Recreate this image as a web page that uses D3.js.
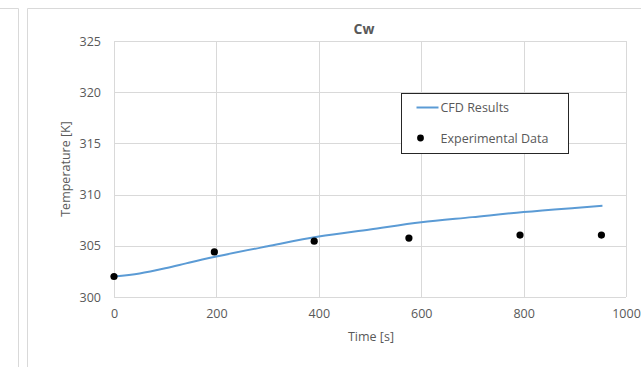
<!DOCTYPE html>
<html>
<head>
<meta charset="utf-8">
<script src="https://cdn.jsdelivr.net/npm/d3@7"></script>
<style>
  body { margin: 0; background: #fff; }
  text { font-family: "Open Sans", sans-serif; fill: #595959; }
</style>
</head>
<body>
<div id="chart"></div>
<script>
// Data
const cfdTime = [0, 50, 100, 150, 200, 300, 400, 500, 600, 700, 800, 900, 954];
const cfdTemp = [302.0, 302.3, 302.8, 303.4, 303.95, 304.95, 305.9, 306.6, 307.3, 307.8, 308.3, 308.7, 308.9];
const expTime = [0, 196, 391, 576, 793, 952];
const expTemp = [302.0, 304.4, 305.45, 305.75, 306.05, 306.05];
const xTicks = [0, 200, 400, 600, 800, 1000];
const yTicks = [300, 305, 310, 315, 320, 325];

const W = 641, H = 367;
const margin = {top: 41, right: 15, bottom: 70, left: 114};
const width = 626 - margin.left,
      height = 297 - margin.top;

const svg = d3.select("#chart")
  .append("svg")
    .attr("width", W)
    .attr("height", H);

// panel borders (previous chart on the left + this chart's frame)
svg.append("path")
    .attr("d", "M0,8.5H18.5V367")
    .attr("fill", "none")
    .attr("stroke", "#d9d9d9");
svg.append("path")
    .attr("d", "M27.5,367V8.5H641")
    .attr("fill", "none")
    .attr("stroke", "#d9d9d9");

const g = svg.append("g")
    .attr("transform", `translate(${margin.left},${margin.top})`);

const x = d3.scaleLinear().domain([0, 1000]).range([0, width]);
const y = d3.scaleLinear().domain([300, 325]).range([height, 0]);

// gridlines
g.append("g")
  .selectAll("line")
  .data(yTicks)
  .enter().append("line")
    .attr("x1", 0).attr("x2", width)
    .attr("y1", d => Math.round(y(d)) + 0.5)
    .attr("y2", d => Math.round(y(d)) + 0.5)
    .attr("stroke", "#d9d9d9");
g.append("g")
  .selectAll("line")
  .data(xTicks)
  .enter().append("line")
    .attr("y1", 0).attr("y2", height)
    .attr("x1", d => Math.round(x(d)) + 0.5)
    .attr("x2", d => Math.round(x(d)) + 0.5)
    .attr("stroke", "#d9d9d9");

// axes
const xAxis = g.append("g")
    .attr("transform", `translate(0,${height})`)
    .call(d3.axisBottom(x).tickValues(xTicks).tickFormat(d3.format("d")).tickSize(0).tickPadding(12));
const yAxis = g.append("g")
    .call(d3.axisLeft(y).tickValues(yTicks).tickFormat(d3.format("d")).tickSize(0).tickPadding(13));
[xAxis, yAxis].forEach(a => {
  a.select(".domain").remove();
  a.selectAll("text")
    .style("font-family", "'Open Sans', sans-serif")
    .style("font-size", "12.5px")
    .attr("fill", "#595959");
});

// CFD line
const line = d3.line()
    .x((d, i) => x(cfdTime[i]))
    .y(d => y(d))
    .curve(d3.curveMonotoneX);
g.append("path")
    .datum(cfdTemp)
    .attr("fill", "none")
    .attr("stroke", "#5b9bd5")
    .attr("stroke-width", 2)
    .attr("d", line);

// experimental points
g.selectAll(".pt")
  .data(expTemp)
  .enter().append("circle")
    .attr("class", "pt")
    .attr("cx", (d, i) => x(expTime[i]))
    .attr("cy", d => y(d))
    .attr("r", 3.6)
    .attr("fill", "#000");

// title
svg.append("text")
    .attr("x", 364)
    .attr("y", 34)
    .attr("text-anchor", "middle")
    .style("font-size", "14px")
    .style("font-weight", "bold")
    .text("Cw");

// axis titles
svg.append("text")
    .attr("x", 371)
    .attr("y", 341)
    .attr("text-anchor", "middle")
    .style("font-size", "12.5px")
    .text("Time [s]");
svg.append("text")
    .attr("transform", "translate(70,169) rotate(-90)")
    .attr("text-anchor", "middle")
    .style("font-size", "12.5px")
    .text("Temperature [K]");

// legend
const lg = svg.append("g").attr("transform", "translate(401.5,93.5)");
lg.append("rect")
    .attr("width", 167)
    .attr("height", 60)
    .attr("fill", "#fff")
    .attr("stroke", "#262626");
lg.append("line")
    .attr("x1", 15).attr("x2", 37)
    .attr("y1", 14).attr("y2", 14)
    .attr("stroke", "#5b9bd5")
    .attr("stroke-width", 2);
lg.append("text")
    .attr("x", 39).attr("y", 18.5)
    .style("font-size", "12.5px")
    .text("CFD Results");
lg.append("circle")
    .attr("cx", 19).attr("cy", 44.5)
    .attr("r", 3.4)
    .attr("fill", "#000");
lg.append("text")
    .attr("x", 39).attr("y", 49)
    .style("font-size", "12.5px")
    .text("Experimental Data");
</script>
</body>
</html>
